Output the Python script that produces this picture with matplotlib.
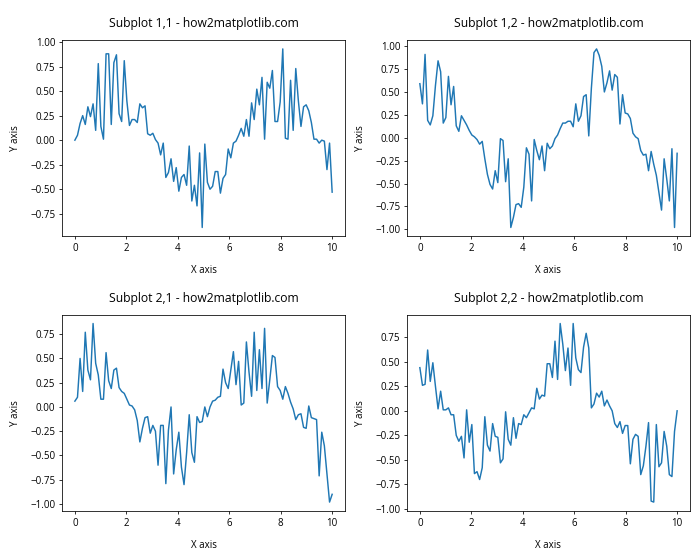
import numpy as np
import matplotlib.pyplot as plt

plt.rcParams['font.family'] = ['Open Sans', 'DejaVu Sans']

# x values shared by all four panels
x = np.linspace(0, 10, 100)

# values
y11 = [0.0, 0.05, 0.17, 0.25, 0.16, 0.34, 0.24, 0.37, 0.10, 0.78,
       0.14, 0.01, 0.88, 0.88, 0.16, 0.79, 0.87, 0.27, 0.19, 0.81,
       0.40, 0.15, 0.21, 0.21, 0.18, 0.37, 0.33, 0.35, 0.065, 0.05,
       0.07, 0.006, -0.03, -0.15, -0.03, -0.38, -0.33, -0.19, -0.42, -0.28,
       -0.52, -0.38, -0.35, -0.46, -0.06, -0.62, -0.46, -0.67, -0.13, -0.89,
       -0.04, -0.43, -0.50, -0.47, -0.32, -0.32, -0.54, -0.39, -0.35, -0.09,
       -0.18, -0.03, -0.01, 0.05, 0.12, 0.04, 0.21, 0.04, 0.38, 0.21,
       0.52, 0.36, 0.64, 0.01, 0.59, 0.53, 0.71, 0.19, 0.19, 0.39,
       0.93, 0.02, 0.01, 0.61, 0.10, 0.73, 0.40, 0.14, 0.34, 0.36,
       0.30, 0.18, 0.01, 0.01, -0.03, 0.0, -0.01, -0.30, -0.03, -0.53]

y12 = [0.59, 0.37, 0.91, 0.19, 0.14, 0.24, 0.57, 0.84, 0.72, 0.16,
       0.22, 0.67, 0.36, 0.56, 0.13, 0.07, 0.24, 0.19, 0.14, 0.08,
       0.03, 0.01, -0.02, -0.07, -0.04, -0.23, -0.40, -0.51, -0.56, -0.36,
       -0.49, -0.01, -0.03, -0.48, -0.23, -0.98, -0.87, -0.73, -0.72, -0.76,
       -0.54, -0.11, -0.18, -0.69, -0.02, -0.14, -0.24, -0.09, -0.36, -0.06,
       -0.12, -0.09, -0.01, 0.03, 0.10, 0.16, 0.16, 0.18, 0.18, 0.12,
       0.37, 0.18, 0.24, 0.45, 0.47, 0.02, 0.54, 0.93, 0.97, 0.90,
       0.78, 0.50, 0.60, 0.73, 0.52, 0.69, 0.66, 0.15, 0.47, 0.27,
       0.26, 0.21, 0.05, 0.01, -0.01, -0.14, -0.19, -0.18, -0.36, -0.15,
       -0.29, -0.41, -0.60, -0.79, -0.23, -0.45, -0.69, -0.12, -0.98, -0.17]

y21 = [0.06, 0.10, 0.50, 0.16, 0.77, 0.38, 0.28, 0.86, 0.45, 0.33,
       0.08, 0.08, 0.56, 0.27, 0.19, 0.38, 0.40, 0.20, 0.16, 0.14,
       0.08, 0.02, 0.01, -0.03, -0.14, -0.36, -0.22, -0.11, -0.10, -0.27,
       -0.19, -0.25, -0.60, -0.19, -0.19, -0.79, -0.24, 0.0, -0.69, -0.44,
       -0.26, -0.62, -0.80, -0.47, -0.08, -0.47, -0.57, -0.10, -0.16, -0.15,
       0.0, -0.10, 0.0, 0.06, 0.07, 0.10, 0.11, 0.39, 0.25, 0.19,
       0.38, 0.57, 0.23, 0.47, 0.02, 0.04, 0.67, 0.36, 0.11, 0.77,
       0.17, 0.59, 0.19, 0.81, 0.04, 0.28, 0.53, 0.51, 0.21, 0.17,
       0.08, 0.21, 0.14, 0.05, -0.02, -0.13, -0.08, -0.07, -0.21, -0.22,
       0.01, -0.11, -0.12, -0.13, -0.71, -0.26, -0.40, -0.69, -0.98, -0.90]

y22 = [0.44, 0.26, 0.27, 0.62, 0.30, 0.49, 0.25, 0.02, 0.20, 0.01,
       0.01, 0.03, -0.04, -0.04, -0.25, -0.31, -0.26, -0.48, 0.01, -0.32,
       -0.14, -0.64, -0.62, -0.70, -0.58, -0.06, -0.35, -0.41, -0.13, -0.26,
       -0.27, -0.53, -0.49, -0.01, -0.29, -0.35, -0.07, -0.28, -0.13, -0.14,
       -0.04, -0.07, -0.02, 0.03, 0.02, 0.23, 0.12, 0.16, 0.15, 0.48,
       0.48, 0.34, 0.71, 0.32, 0.89, 0.68, 0.41, 0.64, 0.26, 0.89,
       0.54, 0.42, 0.39, 0.65, 0.79, 0.64, 0.03, 0.07, 0.18, 0.14,
       0.20, 0.05, 0.11, 0.05, 0.00, -0.13, -0.17, -0.11, -0.23, -0.15,
       -0.15, -0.54, -0.29, -0.24, -0.26, -0.65, -0.56, -0.36, -0.12, -0.92,
       -0.93, -0.14, -0.57, -0.53, -0.21, -0.36, -0.65, -0.67, -0.21, 0.00]

series = [[y11, y12], [y21, y22]]

# drawn at 10x8 inches and saved at 70 dpi -> 700x560
fig, axs = plt.subplots(2, 2, figsize=(10, 8), dpi=70)

for i in range(2):
    for j in range(2):
        ax = axs[i, j]
        ax.plot(x, series[i][j])
        ax.set_title(f'Subplot {i+1},{j+1} - how2matplotlib.com', pad=13, fontsize=12.5)
        ax.set_xlabel('X axis', labelpad=11)
        ax.set_ylabel('Y axis', labelpad=9)

fig.subplots_adjust(left=0.0886, right=0.9857, top=0.9286, bottom=0.0875,
                    wspace=0.219, hspace=0.398)
plt.savefig('out.png', dpi=70)
